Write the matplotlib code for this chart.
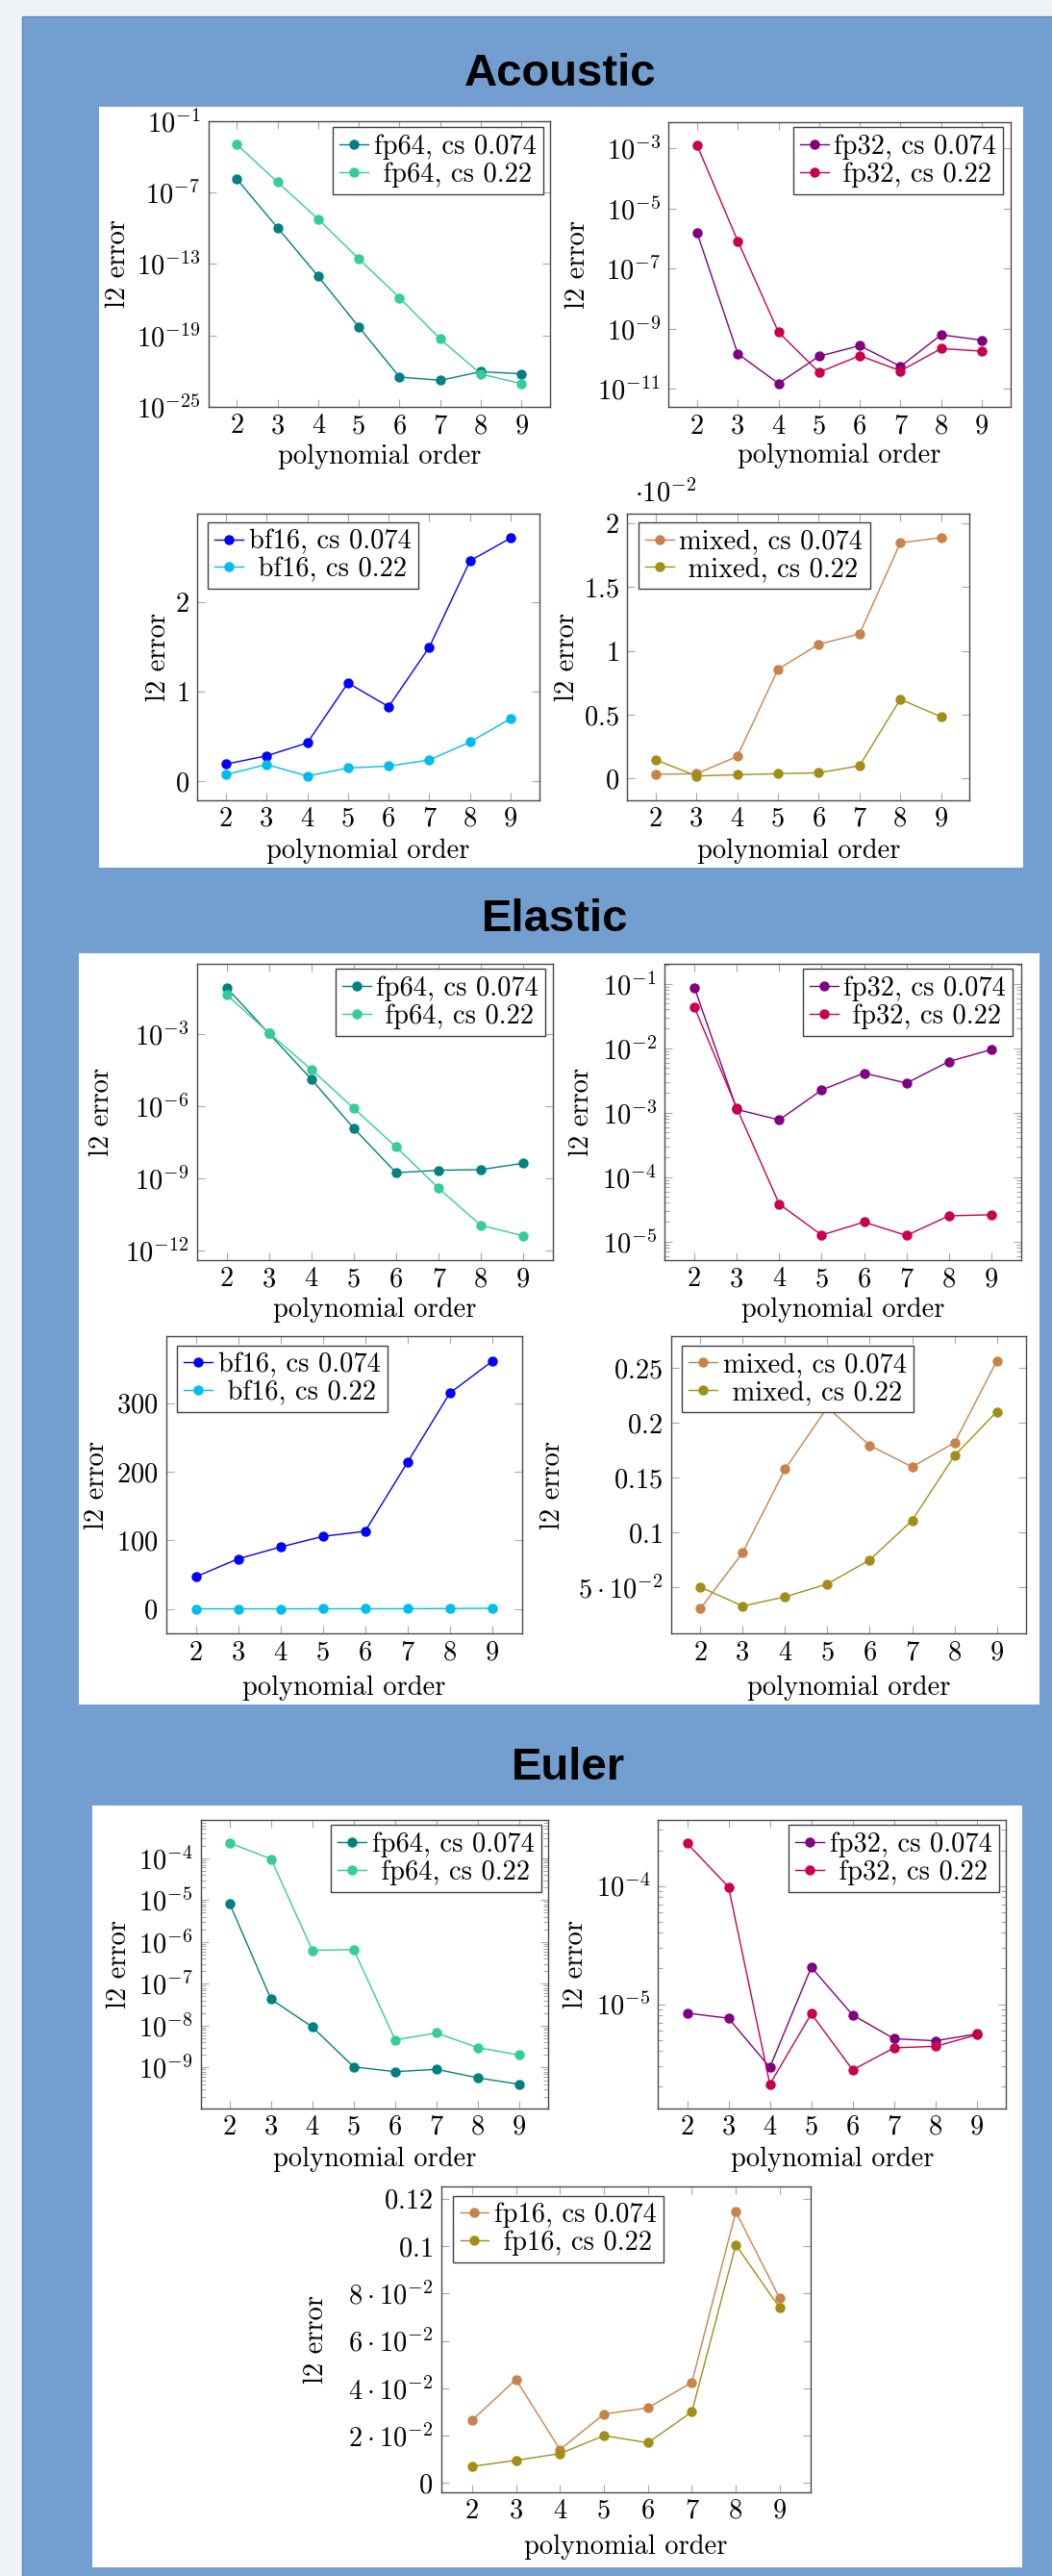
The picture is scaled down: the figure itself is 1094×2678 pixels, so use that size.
import matplotlib
matplotlib.use("Agg")
import matplotlib.pyplot as plt
from matplotlib.patches import Rectangle
from matplotlib.ticker import FixedLocator, FuncFormatter, LogLocator, NullLocator, NullFormatter

W, H = 1094, 2678
FS = 20.5

plt.rcParams['font.family'] = ['cmr10', 'DejaVu Sans']
plt.rcParams['mathtext.fontset'] = 'cm'
plt.rcParams['axes.unicode_minus'] = False
plt.rcParams['axes.formatter.use_mathtext'] = True

# ---------------- data ----------------
orders = [2, 3, 4, 5, 6, 7, 8, 9]

ac_fp64_074 = [1.3e-6, 1.1e-10, 9e-15, 5e-19, 3.2e-23, 1.7e-23, 9e-23, 6e-23]
ac_fp64_022 = [1.07e-3, 7.2e-7, 5.7e-10, 2.6e-13, 1.45e-16, 5e-20, 5.7e-23, 8.9e-24]
ac_fp32_074 = [1.55e-6, 1.45e-10, 1.48e-11, 1.2e-10, 2.7e-10, 5.5e-11, 6.2e-10, 4.1e-10]
ac_fp32_022 = [1.29e-3, 8.3e-7, 7.6e-10, 3.5e-11, 1.25e-10, 3.9e-11, 2.15e-10, 1.77e-10]
ac_bf16_074 = [0.19, 0.283, 0.427, 1.097, 0.832, 1.498, 2.462, 2.717]
ac_bf16_022 = [0.072, 0.186, 0.057, 0.147, 0.168, 0.237, 0.437, 0.699]
ac_mixed_074 = [0.00033, 0.00038, 0.00173, 0.00856, 0.01051, 0.01132, 0.01844, 0.01885]
ac_mixed_022 = [0.00146, 0.00020, 0.00030, 0.00038, 0.00045, 0.00100, 0.00620, 0.00484]

el_fp64_074 = [8.5e-2, 1.07e-3, 1.35e-5, 1.23e-7, 1.74e-9, 2.2e-9, 2.35e-9, 4.3e-9]
el_fp64_022 = [4.4e-2, 1.13e-3, 3.4e-5, 8.3e-7, 2.06e-8, 4.0e-10, 1.13e-11, 4.2e-12]
el_fp32_074 = [8.7e-2, 1.12e-3, 7.7e-4, 2.24e-3, 4.1e-3, 2.87e-3, 6.2e-3, 9.5e-3]
el_fp32_022 = [4.3e-2, 1.17e-3, 3.8e-5, 1.26e-5, 2.0e-5, 1.24e-5, 2.5e-5, 2.6e-5]
el_bf16_074 = [46.7, 72.9, 90.2, 105.6, 113.1, 213.6, 314.5, 360.7]
el_bf16_022 = [0.12, 0.15, 0.10, 0.20, 0.20, 0.30, 0.50, 0.90]
el_mixed_074 = [0.0307, 0.0818, 0.1577, 0.2140, 0.1793, 0.1598, 0.1817, 0.2561]
el_mixed_022 = [0.0503, 0.0331, 0.0415, 0.0532, 0.0751, 0.1110, 0.1700, 0.2100]

eu_fp64_074 = [8.2e-6, 4.3e-8, 9.3e-9, 1.04e-9, 8.0e-10, 9.1e-10, 5.7e-10, 4.0e-10]
eu_fp64_022 = [2.3e-4, 9.6e-5, 6.3e-7, 6.6e-7, 4.6e-9, 6.7e-9, 3.0e-9, 2.0e-9]
eu_fp32_074 = [8.4e-6, 7.6e-6, 2.92e-6, 2.05e-5, 8.1e-6, 5.1e-6, 4.9e-6, 5.6e-6]
eu_fp32_022 = [2.29e-4, 9.8e-5, 2.1e-6, 8.3e-6, 2.78e-6, 4.27e-6, 4.4e-6, 5.5e-6]
eu_fp16_074 = [0.0265, 0.0437, 0.0141, 0.0291, 0.0317, 0.0424, 0.1145, 0.0779]
eu_fp16_022 = [0.0070, 0.0096, 0.0124, 0.0200, 0.0170, 0.0300, 0.1005, 0.0739]

sections = ["Acoustic", "Elastic", "Euler"]
xlabel_text = "polynomial order"
ylabel_text = "l2 error"

# ---------------- styles ----------------
C_FP64 = ('#008080', '#35cd96')
C_FP32 = ('#800080', '#c8004e')
C_BF16 = ('#0000ff', '#00bdef')
C_MIX = ('#c8834a', '#a28e16')

fig = plt.figure(figsize=(W / 100, H / 100), dpi=100, facecolor='#eff3f8')

# blue panel
fig.add_artist(Rectangle((23 / W, -0.01), 1.0, (H - 17) / H + 0.01, transform=fig.transFigure,
                         facecolor='#729fcf', edgecolor='#5c88bb', lw=1.0, zorder=-3))
# white boxes
for (l, t, r, b) in [(103.3, 111, 1064, 901.7), (82, 990.7, 1080.7, 1772), (96, 1876.7, 1063, 2669)]:
    fig.add_artist(Rectangle((l / W, 1 - b / H), (r - l) / W, (b - t) / H, transform=fig.transFigure,
                             facecolor='white', edgecolor='none', zorder=-2))

for name, (x, yb) in zip(sections, [(583, 89.3), (577, 968), (591, 1850)]):
    fig.text(x / W, 1 - yb / H, name, ha='center', va='baseline', fontsize=34,
             fontweight='bold', family=['Liberation Sans', 'DejaVu Sans'])


def log_fmt(v, pos):
    import math
    e = int(round(math.log10(v)))
    return r'$10^{%d}$' % e


def make_ax(rect, series, labels, colors, ylog, ylim, yticks, ytlabels, minor,
            leg_loc, leg_gap, ylab_dx, xlab_dy, offset=None):
    l, t, r, b = rect
    w, h = r - l, b - t
    ax = fig.add_axes([l / W, 1 - b / H, w / W, h / H])
    for ys, lab, c in zip(series, labels, colors):
        ax.plot(orders, ys, '-o', color=c, lw=1.0, ms=6.5, mec=c, mfc=c, label=lab)
    if ylog:
        ax.set_yscale('log')
    ax.set_xlim(1.3, 9.7)
    ax.set_ylim(*ylim)
    ax.xaxis.set_major_locator(FixedLocator(orders))
    ax.xaxis.set_major_formatter(FuncFormatter(lambda v, p: '%d' % round(v)))
    ax.xaxis.set_minor_locator(NullLocator())
    ax.yaxis.set_major_locator(FixedLocator(yticks))
    if ylog:
        ax.yaxis.set_major_formatter(FuncFormatter(log_fmt))
        if minor:
            ax.yaxis.set_minor_locator(LogLocator(base=10, subs=[2, 3, 4, 5, 6, 7, 8, 9], numticks=50))
        else:
            ax.yaxis.set_minor_locator(NullLocator())
        ax.yaxis.set_minor_formatter(NullFormatter())
    else:
        ax.yaxis.set_major_formatter(FuncFormatter(lambda v, p, L=ytlabels: L[p] if p is not None and p < len(L) else ''))
        ax.yaxis.set_minor_locator(NullLocator())
    ax.tick_params(which='both', direction='in', top=True, right=True, color='#a8a8a8',
                   labelsize=FS, labelcolor='black', width=0.8)
    ax.tick_params(which='major', length=6)
    ax.tick_params(which='minor', length=3.5)
    ax.tick_params(axis='x', pad=5)
    ax.tick_params(axis='y', pad=6)
    for s in ax.spines.values():
        s.set_color('#4a4a4a')
        s.set_linewidth(1.0)
    ax.set_xlabel(xlabel_text, fontsize=FS, va='center')
    ax.xaxis.set_label_coords(0.5, -xlab_dy / h)
    ax.set_ylabel(ylabel_text, fontsize=FS, va='center')
    ax.yaxis.set_label_coords(-(ylab_dx - 2.8) / w, 0.5)
    gx, gy = leg_gap
    if leg_loc == 'upper right':
        anchor = (1 - gx / w, 1 - gy / h)
    else:
        anchor = (gx / w, 1 - gy / h)
    leg = ax.legend(loc=leg_loc, bbox_to_anchor=anchor, borderaxespad=0, fontsize=FS,
                    frameon=True, fancybox=False, framealpha=1, edgecolor='#404040',
                    borderpad=0.25, labelspacing=0.08, handlelength=1.05, handletextpad=0.2)
    leg.get_frame().set_linewidth(1.0)
    if offset:
        ax.text((660 - l) / w, 1 + (t - 513) / h, offset, transform=ax.transAxes,
                ha='left', va='center', fontsize=FS)
    return ax


def labs(prefix):
    return [prefix + ', cs 0.074', ' ' + prefix + ', cs 0.22']


# Acoustic
make_ax((216.7, 125.7, 572, 423), [ac_fp64_074, ac_fp64_022], labs('fp64'), C_FP64, True,
        (1e-25, 1e-1), [1e-25, 1e-19, 1e-13, 1e-7, 1e-1], None, False,
        'upper right', (7.3, 6.6), 96.7, 52)
make_ax((695.3, 126.7, 1050.7, 423.3), [ac_fp32_074, ac_fp32_022], labs('fp32'), C_FP32, True,
        (10 ** -11.62, 10 ** -2.11), [1e-11, 1e-9, 1e-7, 1e-5, 1e-3], None, False,
        'upper right', (7.4, 5.6), 97, 51)
make_ax((205.3, 534.3, 560.7, 831.7), [ac_bf16_074, ac_bf16_022], labs('bf16'), C_BF16, False,
        (-0.211, 2.986), [0, 1, 2], ['$0$', '$1$', '$2$'], False,
        'upper left', (10.7, 9), 43.6, 53.3)
make_ax((652.3, 533.7, 1008.3, 831.7), [ac_mixed_074, ac_mixed_022], labs('mixed'), C_MIX, False,
        (-0.00168, 0.02075), [0, 0.005, 0.01, 0.015, 0.02], ['$0$', '$0.5$', '$1$', '$1.5$', '$2$'], False,
        'upper left', (11.4, 9.6), 65.6, 53.3, offset=r'$\cdot10^{-2}$')

# Elastic
make_ax((204.7, 1001.7, 575, 1310), [el_fp64_074, el_fp64_022], labs('fp64'), C_FP64, True,
        (10 ** -12.39, 10 ** -0.067), [1e-12, 1e-9, 1e-6, 1e-3], None, False,
        'upper right', (7.7, 5.6), 101.4, 52)
make_ax((691.3, 1001.7, 1061.7, 1310), [el_fp32_074, el_fp32_022], labs('fp32'), C_FP32, True,
        (10 ** -5.289, 10 ** -0.687), [1e-5, 1e-4, 1e-3, 1e-2, 1e-1], None, True,
        'upper right', (8.4, 5.6), 89.6, 52)
make_ax((172.7, 1389.3, 542.7, 1698.3), [el_bf16_074, el_bf16_022], labs('bf16'), C_BF16, False,
        (-36, 397), [0, 100, 200, 300], ['$0$', '$100$', '$200$', '$300$'], False,
        'upper left', (11.6, 9.7), 74.4, 56.7)
make_ax((697.5, 1389.3, 1067.4, 1698.3), [el_mixed_074, el_mixed_022], labs('mixed'), C_MIX, False,
        (0.008, 0.2786), [0.05, 0.1, 0.15, 0.2, 0.25],
        [r'$5\cdot10^{-2}$', '$0.1$', '$0.15$', '$0.2$', '$0.25$'], False,
        'upper left', (11.8, 9.7), 125.5, 56.7)

# Euler
make_ax((208.75, 1891.7, 570, 2191.7), [eu_fp64_074, eu_fp64_022], labs('fp64'), C_FP64, True,
        (10 ** -9.97, 10 ** -3.08), [1e-9, 1e-8, 1e-7, 1e-6, 1e-5, 1e-4], None, True,
        'upper right', (7.5, 5.6), 87.7, 53)
make_ax((684.4, 1891.7, 1046, 2191.7), [eu_fp32_074, eu_fp32_022], labs('fp32'), C_FP32, True,
        (10 ** -5.88, 10 ** -3.44), [1e-5, 1e-4], None, True,
        'upper right', (7.25, 5.6), 88.4, 53)
make_ax((458.9, 2272.7, 842.9, 2590.7), [eu_fp16_074, eu_fp16_022], labs('fp16'), C_MIX, False,
        (-0.0038, 0.1253), [0, 0.02, 0.04, 0.06, 0.08, 0.1, 0.12],
        ['$0$', r'$2\cdot10^{-2}$', r'$4\cdot10^{-2}$', r'$6\cdot10^{-2}$', r'$8\cdot10^{-2}$', '$0.1$', '$0.12$'], False,
        'upper left', (12.5, 10), 133, 57)

fig.savefig('out.png', dpi=100, facecolor=fig.get_facecolor())
